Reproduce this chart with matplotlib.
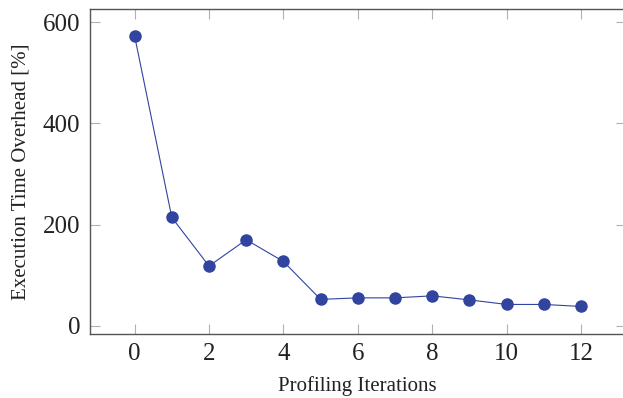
import matplotlib
matplotlib.use("Agg")
import matplotlib.pyplot as plt

iterations = list(range(13))
overhead = [573, 214, 118, 170, 127, 52, 55, 55, 59, 51, 42, 42, 38]
x_ticks = [0, 2, 4, 6, 8, 10, 12]
y_ticks = [0, 200, 400, 600]

plt.rcParams["font.family"] = ["Liberation Serif", "DejaVu Serif"]

W, H = 623, 398
fig = plt.figure(figsize=(W / 100, H / 100), dpi=100)
left, right, top, bottom = 90, 625.6, 9, 333.5
ax = fig.add_axes([left / W, 1 - bottom / H, (right - left) / W, (bottom - top) / H])

color = "#3044a0"
ax.plot(iterations, overhead, color=color, linewidth=0.8, marker="o",
        markersize=8, markerfacecolor=color, markeredgecolor=color)

# pgfplots-style enlarged limits (10% of data range on each side)
xr = max(iterations) - min(iterations)
yr = max(overhead) - min(overhead)
ax.set_xlim(min(iterations) - 0.1 * xr, max(iterations) + 0.1 * xr)
ax.set_ylim(min(overhead) - 0.1 * yr, max(overhead) + 0.1 * yr)

ax.set_xticks(x_ticks)
ax.set_yticks(y_ticks)
ax.tick_params(direction="in", length=7.5, width=0.8, color="#b0b0b0",
               top=True, right=True, labelsize=18, labelcolor="#222222", pad=7)
for s in ax.spines.values():
    s.set_color("#555555")
    s.set_linewidth(1.0)

ax.set_xlabel("Profiling Iterations", fontsize=15, color="#222222", labelpad=8)
ax.set_ylabel("Execution Time Overhead [%]", fontsize=15, color="#222222", labelpad=9)

fig.savefig("out.png", dpi=100)
